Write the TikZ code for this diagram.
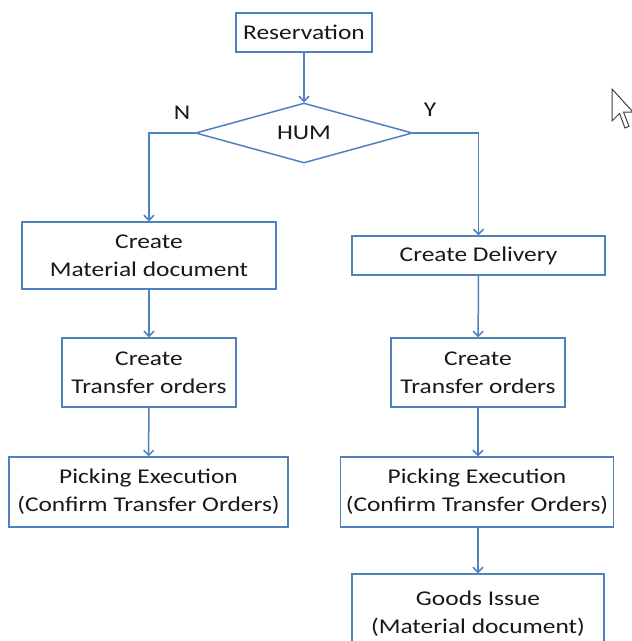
\documentclass[tikz,border=0pt]{standalone}
\usepackage{fontspec}
\setmainfont{Carlito}[FakeStretch=1.21]
\usetikzlibrary{shapes.geometric,arrows.meta}
\definecolor{flowblue}{HTML}{4F81BD}
\begin{document}
\begin{tikzpicture}[x=1pt,y=-1pt,
  every node/.style={font=\fontsize{21}{28}\selectfont, text=black!90},
  procbox/.style={draw=flowblue, line width=1.5pt, fill=white, rectangle,
    align=center, inner sep=0pt},
  decision/.style={draw=flowblue, line width=1.5pt, diamond, aspect=3.6,
    inner sep=0pt, minimum width=217pt, minimum height=60pt},
  flow/.style={draw=flowblue, line width=1.5pt,
    -{Straight Barb[length=5pt,width=10pt,line width=1.5pt]}},
  branch/.style={inner sep=0pt}]
\useasboundingbox (0,0) rectangle (632,641);

% top of the chart
\node[procbox, minimum width=136pt, minimum height=39pt] (res) at (304,32.5) {Reservation};
\node[decision] (hum) at (304,133) {HUM};
\node[branch] (nlab) at (182,113) {N};
\node[branch] (ylab) at (430,110) {Y};

% left branch
\node[procbox, minimum width=254pt, minimum height=67pt] (l1) at (149,255.5) {Create\\Material document};
\node[procbox, minimum width=174pt, minimum height=69pt] (l2) at (149,372.5) {Create\\Transfer orders};
\node[procbox, minimum width=279pt, minimum height=70pt] (l3) at (148.5,492) {Picking Execution\\(Confirm Transfer Orders)};

% right branch
\node[procbox, minimum width=253pt, minimum height=39pt] (r1) at (478.5,255.5) {Create Delivery};
\node[procbox, minimum width=174pt, minimum height=69pt] (r2) at (478,372.5) {Create\\Transfer orders};
\node[procbox, minimum width=273pt, minimum height=70pt] (r3) at (477,492) {Picking Execution\\(Confirm Transfer Orders)};
\node[procbox, minimum width=252pt, minimum height=80pt] (r4) at (478,614) {Goods Issue\\(Material document)};

% connectors
\draw[flow] (res) -- (hum);
\draw[flow] (hum.west) -| (l1.north);
\draw[flow] (hum.east) -| (r1.north);
\draw[flow] (l1) -- (l2);
\draw[flow] (l2) -- (l3);
\draw[flow] (r1) -- (r2);
\draw[flow] (r2) -- (r3.north -| r2.south);
\draw[flow] (r3.south -| r4.north) -- (r4);

% mouse pointer
\draw[fill=white, draw=black!75, line width=1pt, line join=miter]
  (612,89) -- (612,121) -- (619.5,113.5) -- (625,128) -- (629,126.3)
  -- (623.5,112) -- (633,112) -- cycle;
\end{tikzpicture}
\end{document}
